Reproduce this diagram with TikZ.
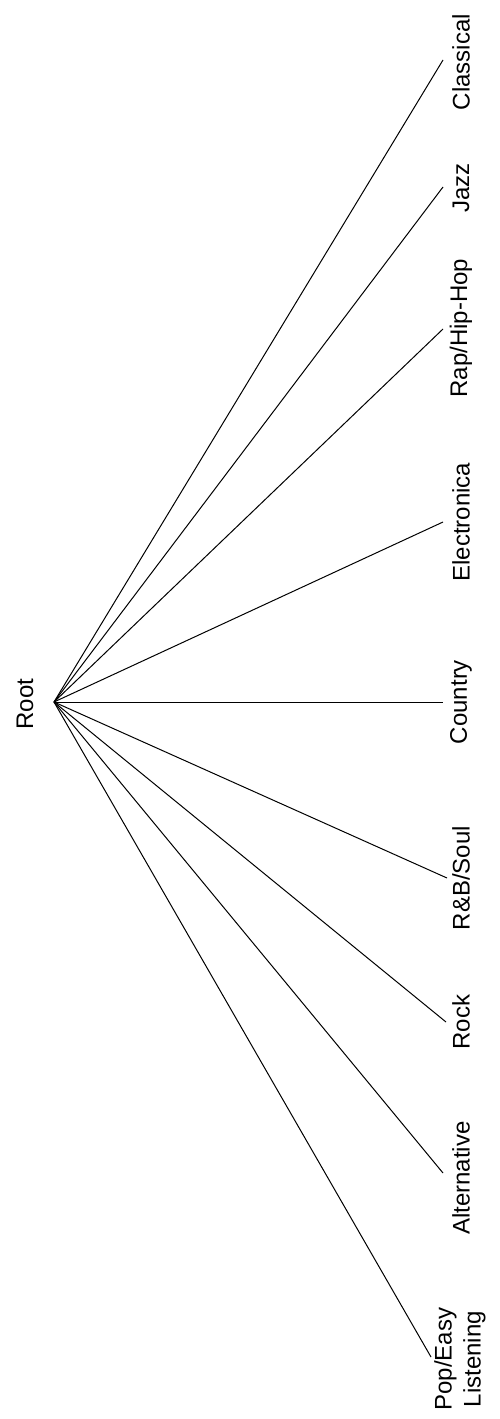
\documentclass[tikz,border=0pt]{standalone}
\usepackage{fontspec}
\setmainfont{Liberation Sans}
\begin{document}
\begin{tikzpicture}[x=1pt,y=-1pt,
  lbl/.style={rotate=90,inner sep=0pt,font=\fontsize{24}{29}\selectfont,align=center},
  edge/.style={line width=1pt,black}]
\useasboundingbox (0,0) rectangle (499,1419);
\node[lbl] (rootlbl) at (25,704) {Root};
\coordinate (root) at (54,702);
\node[lbl] (classical) at (461,62) {Classical};
\node[lbl] (jazz) at (461,188) {Jazz};
\node[lbl] (rap) at (461,328) {Rap/Hip-Hop};
\node[lbl] (electronica) at (461,522) {Electronica};
\node[lbl] (country) at (461,702) {Country};
\node[lbl] (rnb) at (461,878) {R\&B/Soul};
\node[lbl] (rock) at (461,1022) {Rock};
\node[lbl] (alternative) at (461,1178) {Alternative};
\node[lbl] (pop) at (460,1359) {Pop/Easy\\Listening};
\coordinate (e1) at (443,60);
\coordinate (e2) at (443,187);
\coordinate (e3) at (443,329);
\coordinate (e4) at (443,522);
\coordinate (e5) at (443,702);
\coordinate (e6) at (447,878);
\coordinate (e7) at (446,1022);
\coordinate (e8) at (443,1173);
\coordinate (e9) at (431,1357);
\foreach \e in {e1,e2,e3,e4,e5,e6,e7,e8,e9}
  \draw[edge] (root) -- (\e);
\end{tikzpicture}
\end{document}
